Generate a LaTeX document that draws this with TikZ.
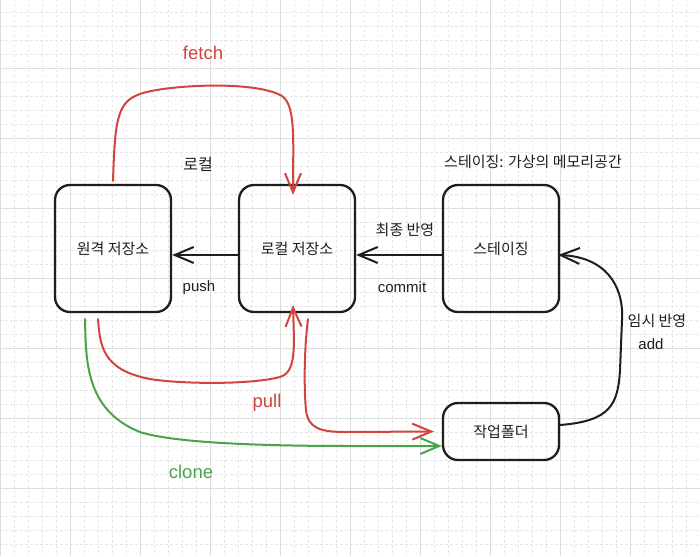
\documentclass[tikz,border=0pt]{standalone}
\usepackage{fontspec}
\setmainfont{Liberation Sans}
\newfontfamily\kr{Noto Sans CJK KR}
\usetikzlibrary{arrows.meta,calc}
\definecolor{ink}{HTML}{1E1E1E}
\definecolor{xred}{HTML}{D2443E}
\definecolor{xgreen}{HTML}{4AA34A}
\definecolor{gmajor}{HTML}{DDDDDD}
\definecolor{gminor}{HTML}{E6E6E6}
\tikzset{
  minorline/.style={draw=gminor, line width=0.8pt, dash pattern=on 2.5pt off 2.5pt},
  majorline/.style={draw=gmajor, line width=1pt},
  box/.style={draw=ink, line width=2.3pt, rounded corners=15pt, minimum width=116pt, inner sep=0pt, font=\kr\fontsize{15}{17}\selectfont, text=ink},
  conn/.style={line width=2pt, line cap=round, line join=round, -{Straight Barb[length=19pt,width=16pt]}},
  krlabel/.style={inner sep=0pt, font=\kr\fontsize{15}{17}\selectfont, text=ink},
  enlabel/.style={inner sep=0pt, font=\fontsize{15}{17}\selectfont, text=ink},
  biglabel/.style={inner sep=0pt, font=\fontsize{18.5}{20}\selectfont},
}
\begin{document}
\begin{tikzpicture}[x=1pt,y=-1pt]
\useasboundingbox[fill=white] (0,0) rectangle (700,556);
% grid
\foreach \i in {0,...,50} {\draw[minorline] ({14*\i},0) -- ({14*\i},556);}
\foreach \j in {0,...,40} {\draw[minorline] (0,{-1.7+14*\j}) -- (700,{-1.7+14*\j});}
\foreach \i in {0,...,10} {\draw[majorline] ({70*\i},0) -- ({70*\i},556);}
\foreach \j in {0,...,8} {\draw[majorline] (0,{-1.7+70*\j}) -- (700,{-1.7+70*\j});}

% boxes
\node[box, minimum height=127pt] (remote) at (113,248.5) {원격 저장소};
\node[box, minimum height=127pt] (local) at (297,248.5) {로컬 저장소};
\node[box, minimum height=127pt] (stage) at (501,248.5) {스테이징};
\node[box, minimum height=57pt] (work) at (501,431.5) {작업폴더};

% labels
\node[biglabel, text=xred] (lfetch) at (203,53) {fetch};
\node[krlabel, font=\kr\fontsize{16}{18}\selectfont] (llocal) at (198,164) {로컬};
\node[krlabel] (lstage) at (533,162) {스테이징: 가상의 메모리공간};
\node[enlabel] (lpush) at (199,288) {push};
\node[enlabel] (lcommit) at (402,287) {commit};
\node[krlabel] (lfinal) at (405,230) {최종 반영};
\node[krlabel] (ltemp) at (657,321) {임시 반영};
\node[enlabel] (ladd) at (651,344) {add};
\node[biglabel, text=xred] (lpull) at (267,403) {pull};
\node[biglabel, text=xgreen] (lclone) at (191,472) {clone};

% black connectors
\draw[conn, ink] ([yshift=-6.5pt]local.west) -- ([yshift=-6.5pt]remote.east);
\draw[conn, ink] ([yshift=-6.5pt]stage.west) -- ([yshift=-6.5pt]local.east);
\draw[conn, ink] ([yshift=6.5pt]work.east) .. controls (610,421) and (618,405) .. (620,370)
  -- (622,320) .. controls (624,285) and (605,257) .. ([xshift=-2pt,yshift=-6.5pt]stage.east);

% fetch
\draw[conn, xred] ([yshift=3pt]remote.north) .. controls (115,120) and (117,102) .. (140,94)
  .. controls (165,85) and (255,80) .. (282,96)
  .. controls (296,106) and (293,140) .. ([xshift=-4pt,yshift=-11pt]local.north);
% pull
\draw[conn, xred] ([xshift=-15pt,yshift=-6pt]remote.south) .. controls (100,345) and (102,370) .. (150,379)
  .. controls (180,384) and (250,385) .. (280,377)
  .. controls (297,372) and (294,345) .. ([xshift=-4pt,yshift=8pt]local.south);
% pull to working folder
\draw[conn, xred] ([xshift=11pt,yshift=-6pt]local.south) .. controls (304,350) and (304,390) .. (306,410)
  .. controls (308,428) and (320,432) .. (345,432) -- ([xshift=-8pt]work.west);
% clone
\draw[conn, xgreen] ([xshift=-28pt,yshift=-6pt]remote.south) .. controls (86,360) and (85,410) .. (140,432)
  .. controls (170,442) and (250,446) .. (350,446) -- ([xshift=0pt,yshift=-14.5pt]work.west);
\end{tikzpicture}
\end{document}
